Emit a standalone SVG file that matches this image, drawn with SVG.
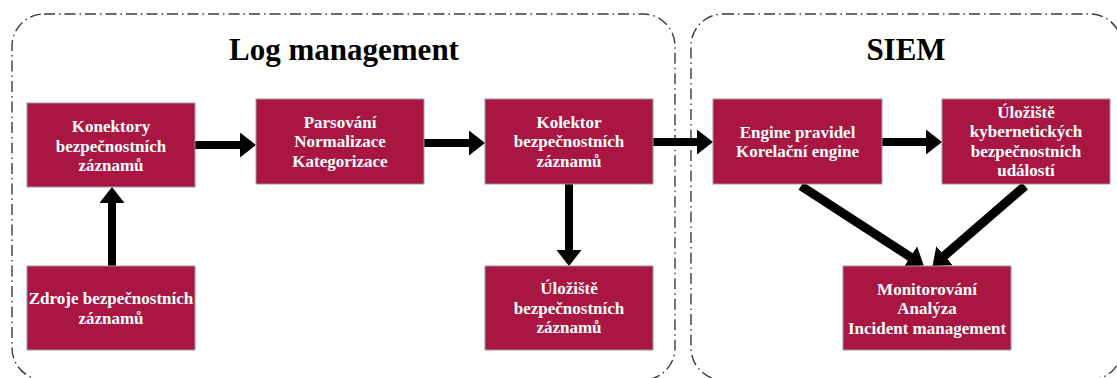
<svg xmlns="http://www.w3.org/2000/svg" width="1117" height="378" viewBox="0 0 1117 378">
<style>
.container{fill:none;stroke:#3a3a3a;stroke-width:1.4;stroke-dasharray:11 4 1.5 4}
.title{font-family:"Liberation Serif","Times New Roman",serif;font-weight:bold;font-size:31px;fill:#000;text-anchor:middle}
.box{fill:#A91641;stroke:#9a9a9a;stroke-width:1}
.lbl{font-family:"Liberation Serif","Times New Roman",serif;font-weight:bold;font-size:17px;fill:#fff;text-anchor:middle}
.arrow{stroke:#000;stroke-width:8;fill:none;marker-end:url(#head)}
.arrowd{stroke:#000;stroke-width:9;fill:none;marker-end:url(#head)}
</style>
<defs>
<marker id="head" viewBox="0 0 16 25" refX="2" refY="12.5" markerWidth="16" markerHeight="25" markerUnits="userSpaceOnUse" orient="auto">
<path d="M0,0 L16,12.5 L0,25 Z" fill="#000"/>
</marker>
</defs>
<rect fill="#fff" x="0" y="0" width="1117" height="378"/>
<g id="group-log-management">
<rect class="container" x="12" y="14" width="663" height="366" rx="32" ry="32"/>
<text class="title" x="344" y="60">Log management</text>
</g>
<g id="group-siem">
<rect class="container" x="691" y="14" width="431" height="366" rx="32" ry="32"/>
<text class="title" x="906" y="60">SIEM</text>
</g>
<g id="connectors">
<line class="arrow" x1="195" y1="145" x2="242" y2="145"/>
<line class="arrow" x1="424" y1="143" x2="471" y2="143"/>
<line class="arrow" x1="653" y1="142" x2="699" y2="142"/>
<line class="arrow" x1="882" y1="142" x2="928" y2="142"/>
<line class="arrow" x1="112" y1="266" x2="112" y2="201"/>
<line class="arrow" x1="569" y1="184" x2="569" y2="252"/>
<line class="arrowd" x1="801" y1="186" x2="912" y2="258"/>
<line class="arrowd" x1="1025" y1="186" x2="943" y2="257"/>
</g>
<g id="node-konektory">
<rect class="box" x="27" y="103" width="168" height="84"/>
<text class="lbl" x="111" y="132"><tspan x="111">Konektory</tspan><tspan x="111" dy="19.5">bezpečnostních</tspan><tspan x="111" dy="19.5">záznamů</tspan></text>
</g>
<g id="node-parsovani">
<rect class="box" x="256" y="99" width="168" height="85"/>
<text class="lbl" x="340" y="127.5"><tspan x="340">Parsování</tspan><tspan x="340" dy="19.5">Normalizace</tspan><tspan x="340" dy="19.5">Kategorizace</tspan></text>
</g>
<g id="node-zdroje">
<rect class="box" x="27" y="266" width="168" height="84"/>
<text class="lbl" x="111" y="304"><tspan x="111">Zdroje bezpečnostních</tspan><tspan x="111" dy="19.5">záznamů</tspan></text>
</g>
<g id="node-kolektor">
<rect class="box" x="485" y="99" width="168" height="85"/>
<text class="lbl" x="569" y="127.5"><tspan x="569">Kolektor</tspan><tspan x="569" dy="19.5">bezpečnostních</tspan><tspan x="569" dy="19.5">záznamů</tspan></text>
</g>
<g id="node-uloziste-zaznamu">
<rect class="box" x="485" y="266" width="168" height="84"/>
<text class="lbl" x="569" y="294"><tspan x="569">Úložiště</tspan><tspan x="569" dy="19.5">bezpečnostních</tspan><tspan x="569" dy="19.5">záznamů</tspan></text>
</g>
<g id="node-engine">
<rect class="box" x="713" y="99" width="169" height="85"/>
<text class="lbl" x="797.5" y="137.5"><tspan x="797.5">Engine pravidel</tspan><tspan x="797.5" dy="19.5">Korelační engine</tspan></text>
</g>
<g id="node-uloziste-udalosti">
<rect class="box" x="942" y="99" width="168" height="85"/>
<text class="lbl" x="1026" y="117.5"><tspan x="1026">Úložiště</tspan><tspan x="1026" dy="19.5">kybernetických</tspan><tspan x="1026" dy="19.5">bezpečnostních</tspan><tspan x="1026" dy="19.5">událostí</tspan></text>
</g>
<g id="node-monitorovani">
<rect class="box" x="843" y="266" width="168" height="84"/>
<text class="lbl" x="927" y="294.5"><tspan x="927">Monitorování</tspan><tspan x="927" dy="19.5">Analýza</tspan><tspan x="927" dy="19.5">Incident management</tspan></text>
</g>
</svg>
